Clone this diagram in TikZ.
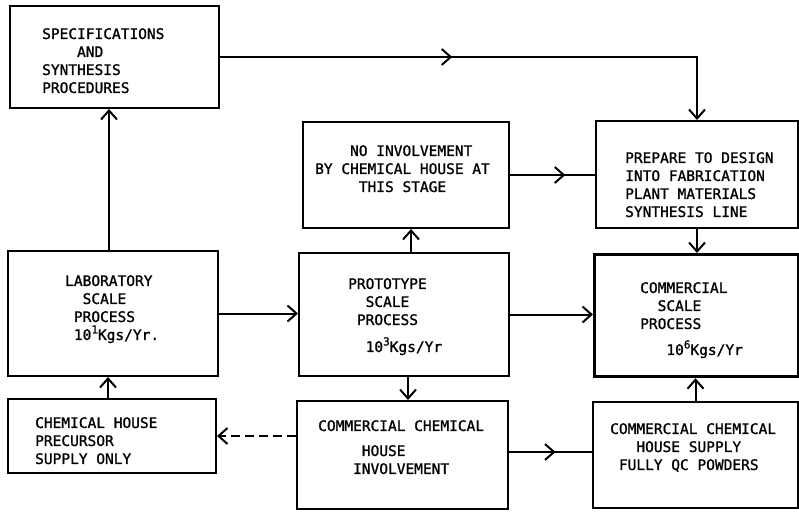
\documentclass[tikz,border=0pt]{standalone}
\usepackage{fontspec}
\newfontfamily\printfont[FakeBold=1.2]{DejaVu Sans Mono}
\usetikzlibrary{arrows.meta,positioning,calc,decorations.markings}
\newcommand{\up}[1]{\raisebox{6.5pt}{\fontsize{11}{11}\selectfont #1}}

\begin{document}
\begin{tikzpicture}[
  x=1pt, y=-1pt,
  box/.style={draw, line width=2pt, inner sep=0pt, anchor=north west},
  heavybox/.style={box, line width=3.2pt},
  txt/.style={font=\fontsize{14.5}{18}\printfont, align=left,
              anchor=north west, inner sep=0pt},
  arr/.style={-{Straight Barb[length=9pt,width=16pt]}, line width=2pt},
  darr/.style={arr, dash pattern=on 9pt off 5pt},
  midarr/.style={line width=2pt, postaction={decorate},
                 decoration={markings, mark=at position #1 with
                   {\arrow{Straight Barb[length=9pt,width=16pt]}}}},
]
\useasboundingbox (0,0) rectangle (799,511);

% Boxes
\node[box, minimum width=209pt, minimum height=102pt] (spec)   at (9,5)     {};
\node[box, minimum width=206pt, minimum height=106pt] (noinv)  at (302,121) {};
\node[box, minimum width=202pt, minimum height=107pt] (prep)   at (595,120) {};
\node[box, minimum width=210pt, minimum height=125pt] (lab)    at (7,250)   {};
\node[box, minimum width=210pt, minimum height=123pt] (proto)  at (298,252) {};
\node[heavybox, minimum width=204pt, minimum height=122pt] (comm) at (593,253) {};
\node[box, minimum width=208pt, minimum height=74pt]  (prec)   at (7,398)   {};
\node[box, minimum width=211pt, minimum height=108pt] (involv) at (296,400) {};
\node[box, minimum width=205pt, minimum height=106pt] (supply) at (592,401) {};

% Box texts
\node[txt] (spectxt)   at (42,28)   {SPECIFICATIONS\\\hphantom{XXXX}AND\\SYNTHESIS\\PROCEDURES};
\node[txt] (noinvtxt)  at (315,145) {\hphantom{XXXX}NO INVOLVEMENT\\BY CHEMICAL HOUSE AT\\\hphantom{XXXXX}THIS STAGE};
\node[txt] (preptxt)   at (625,152) {PREPARE TO DESIGN\\INTO FABRICATION\\PLANT MATERIALS\\SYNTHESIS LINE};
\node[txt] (labtxt)    at (65,275)  {LABORATORY\\\hphantom{XX}SCALE\\\hphantom{X}PROCESS\\\hphantom{X}10\up{1}Kgs/Yr.};
\node[txt] (prototxt)  at (348,278) {PROTOTYPE\\\hphantom{XX}SCALE\\\hphantom{X}PROCESS\\[9pt]\hphantom{XX}10\up{3}Kgs/Yr};
\node[txt] (commtxt)   at (640,282) {COMMERCIAL\\\hphantom{XX}SCALE\\PROCESS\\[8pt]\hphantom{XXX}10\up{6}Kgs/Yr};
\node[txt] (prectxt)   at (35,417)  {CHEMICAL HOUSE\\PRECURSOR\\SUPPLY ONLY};
\node[txt] (involvtxt) at (318,420) {COMMERCIAL CHEMICAL\\[7pt]\hphantom{XXXXX}HOUSE\\\hphantom{XXXX}INVOLVEMENT};
\node[txt] (supplytxt) at (610,423) {COMMERCIAL CHEMICAL\\\hphantom{XXX}HOUSE SUPPLY\\\hphantom{X}FULLY QC POWDERS};

% Left column, going up
\coordinate (c0) at ($(prec.north)+(-4,0)$);
\coordinate (c1) at ($(lab.north)+(-4,0)$);
\draw[arr] (c0) -- (c0 |- lab.south);
\draw[arr] (c1) -- (c1 |- spec.south);

% Specifications over to the plant line
\draw[arr, midarr=0.43] (spec.east) -| (prep.north);
\draw[midarr=0.65] (noinv.east) -- (noinv.east -| prep.west);

% Scale-up chain
\draw[arr] (lab.east) -- (lab.east -| proto.west);
\draw[arr] (proto.east) -- (proto.east -| comm.west);

% Prototype up and down
\coordinate (p0) at ($(proto.north)+(7,0)$);
\coordinate (p1) at ($(proto.south)+(4,0)$);
\draw[arr] (p0) -- (p0 |- noinv.south);
\draw[arr] (p1) -- (p1 |- involv.north);

% Into commercial scale
\draw[arr] (prep.south) -- (prep.south |- comm.north);
\draw[arr] (supply.north) -- (supply.north |- comm.south);

% Chemical house links
\coordinate (h0) at ($(involv.east)+(0,-3)$);
\draw[midarr=0.56] (h0) -- (h0 -| supply.west);
\draw[darr] (involv.west |- prec.east) -- (prec.east);

\end{tikzpicture}
\end{document}
